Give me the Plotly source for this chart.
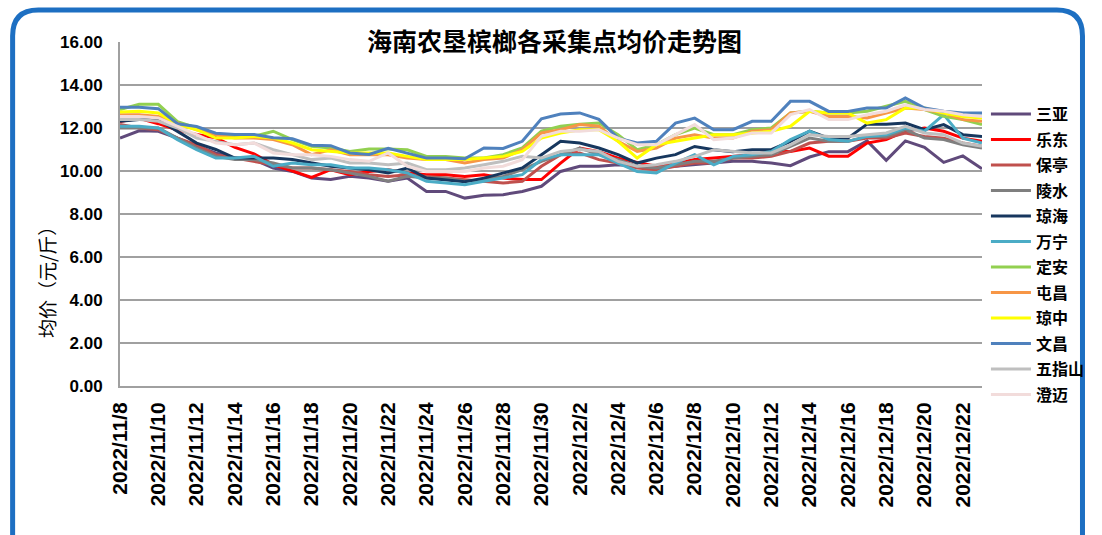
import plotly.graph_objects as go

dates = ["2022/11/8", "2022/11/9", "2022/11/10", "2022/11/11", "2022/11/12", "2022/11/13",
         "2022/11/14", "2022/11/15", "2022/11/16", "2022/11/17", "2022/11/18", "2022/11/19",
         "2022/11/20", "2022/11/21", "2022/11/22", "2022/11/23", "2022/11/24", "2022/11/25",
         "2022/11/26", "2022/11/27", "2022/11/28", "2022/11/29", "2022/11/30", "2022/12/1",
         "2022/12/2", "2022/12/3", "2022/12/4", "2022/12/5", "2022/12/6", "2022/12/7",
         "2022/12/8", "2022/12/9", "2022/12/10", "2022/12/11", "2022/12/12", "2022/12/13",
         "2022/12/14", "2022/12/15", "2022/12/16", "2022/12/17", "2022/12/18", "2022/12/19",
         "2022/12/20", "2022/12/21", "2022/12/22", "2022/12/23"]

sanya = [11.53, 11.87, 11.85, 11.53, 11.15, 10.84, 10.60, 10.53, 10.14, 9.98,
         9.67, 9.60, 9.75, 9.67, 9.52, 9.67, 9.05, 9.05, 8.74, 8.87,
         8.90, 9.05, 9.29, 9.98, 10.22, 10.22, 10.29, 10.22, 10.14, 10.22,
         10.29, 10.37, 10.45, 10.45, 10.37, 10.25, 10.65, 10.90, 10.90, 11.40,
         10.50, 11.40, 11.10, 10.40, 10.70, 10.10]
ledong = [12.30, 12.45, 12.20, 11.90, 11.70, 11.55, 11.10, 10.80, 10.30, 10.00,
          9.70, 10.06, 9.83, 9.98, 10.06, 9.91, 9.83, 9.83, 9.75, 9.83,
          9.67, 9.60, 9.60, 10.37, 11.07, 10.90, 10.60, 10.40, 10.22, 10.37,
          10.53, 10.60, 10.68, 10.76, 10.91, 10.91, 11.07, 10.69, 10.69, 11.30,
          11.46, 11.85, 12.00, 11.85, 11.53, 11.38]
baoting = [12.16, 12.00, 11.92, 11.53, 11.22, 10.76, 10.60, 10.45, 10.29, 10.14,
           10.14, 10.06, 9.98, 9.83, 9.75, 9.83, 9.75, 9.67, 9.60, 9.52,
           9.44, 9.52, 10.22, 10.76, 10.84, 10.53, 10.37, 10.14, 10.06, 10.22,
           10.37, 10.37, 10.60, 10.60, 10.68, 10.91, 11.30, 11.38, 11.38, 11.53,
           11.53, 11.77, 11.61, 11.53, 11.30, 11.15]
lingshui = [12.00, 12.00, 12.00, 11.53, 11.07, 10.68, 10.53, 10.53, 10.37, 10.14,
            10.14, 10.06, 9.91, 9.75, 9.52, 9.75, 9.67, 9.67, 9.52, 9.60,
            9.75, 10.06, 10.45, 10.76, 11.07, 10.76, 10.53, 10.22, 10.14, 10.29,
            10.45, 10.45, 10.60, 10.68, 10.76, 11.15, 11.53, 11.38, 11.38, 11.61,
            11.61, 11.92, 11.53, 11.46, 11.22, 11.07]
qionghai = [12.31, 12.39, 12.39, 11.85, 11.30, 11.00, 10.60, 10.60, 10.60, 10.53,
            10.37, 10.22, 10.14, 10.06, 9.91, 10.14, 9.67, 9.60, 9.50, 9.67,
            9.91, 10.14, 10.76, 11.38, 11.30, 11.07, 10.76, 10.37, 10.60, 10.76,
            11.14, 10.99, 10.90, 10.99, 10.99, 11.38, 11.85, 11.53, 11.53, 12.18,
            12.18, 12.23, 11.92, 12.16, 11.69, 11.61]
wanning = [12.08, 12.08, 12.00, 11.46, 10.99, 10.60, 10.60, 10.68, 10.22, 10.37,
           10.29, 10.29, 10.14, 10.14, 10.06, 9.91, 9.52, 9.44, 9.36, 9.52,
           9.67, 9.83, 10.53, 10.76, 10.76, 10.76, 10.37, 9.98, 9.91, 10.37,
           10.76, 10.29, 10.68, 10.76, 10.91, 11.46, 11.85, 11.46, 11.38, 11.61,
           11.69, 12.00, 11.85, 12.62, 11.53, 11.30]
dingan = [12.86, 13.10, 13.10, 12.30, 12.00, 11.69, 11.60, 11.61, 11.85, 11.46,
          11.15, 11.07, 10.91, 11.02, 11.02, 10.99, 10.68, 10.68, 10.60, 10.60,
          10.76, 11.07, 11.85, 12.08, 12.18, 12.23, 11.69, 10.99, 11.22, 11.69,
          12.00, 11.69, 11.69, 11.92, 12.00, 12.70, 12.78, 12.70, 12.70, 12.78,
          13.01, 13.24, 12.86, 12.54, 12.39, 12.16]
tunchang = [12.62, 12.62, 12.54, 12.23, 11.92, 11.69, 11.53, 11.53, 11.46, 11.22,
            10.76, 10.99, 10.76, 10.76, 10.76, 10.60, 10.53, 10.53, 10.37, 10.53,
            10.60, 10.99, 11.77, 11.92, 12.16, 12.08, 11.38, 10.91, 11.07, 11.53,
            11.69, 11.53, 11.53, 11.85, 11.92, 12.70, 12.78, 12.54, 12.54, 12.47,
            12.70, 12.93, 12.86, 12.70, 12.39, 12.31]
qiongzhong = [12.75, 12.78, 12.70, 12.16, 11.92, 11.53, 11.53, 11.61, 11.53, 11.30,
              10.99, 10.91, 10.84, 10.84, 10.84, 10.68, 10.53, 10.53, 10.53, 10.60,
              10.68, 10.91, 11.53, 11.77, 11.92, 11.92, 11.38, 10.60, 11.22, 11.38,
              11.53, 11.69, 11.69, 11.77, 11.85, 12.08, 12.78, 12.70, 12.70, 12.23,
              12.39, 12.93, 12.93, 12.70, 12.54, 12.47]
wenchang = [12.97, 12.97, 12.90, 12.20, 12.07, 11.76, 11.70, 11.70, 11.55, 11.50,
            11.20, 11.18, 10.84, 10.77, 11.05, 10.84, 10.60, 10.60, 10.57, 11.07,
            11.05, 11.38, 12.43, 12.65, 12.70, 12.40, 11.53, 11.30, 11.38, 12.23,
            12.46, 11.92, 11.92, 12.31, 12.31, 13.24, 13.24, 12.77, 12.77, 12.93,
            12.93, 13.40, 12.93, 12.78, 12.70, 12.70]
wuzhishan = [12.39, 12.39, 12.31, 12.00, 11.53, 11.38, 11.22, 11.30, 10.99, 10.76,
             10.53, 10.60, 10.37, 10.37, 10.29, 10.37, 10.06, 10.06, 10.14, 10.29,
             10.45, 10.68, 10.60, 10.91, 11.00, 10.91, 10.45, 10.22, 10.29, 10.45,
             10.68, 10.99, 10.91, 10.84, 10.84, 11.22, 11.69, 11.61, 11.61, 11.69,
             11.77, 12.08, 11.77, 11.69, 11.30, 11.15]
chengmai = [12.54, 12.54, 12.47, 12.08, 11.69, 11.30, 11.22, 11.30, 10.84, 10.76,
            10.76, 10.68, 10.53, 10.45, 10.84, 10.22, 9.98, 9.98, 9.98, 10.14,
            10.22, 10.53, 11.61, 11.85, 11.85, 11.92, 11.53, 11.22, 11.22, 11.69,
            12.16, 11.46, 11.53, 11.77, 11.77, 12.62, 12.86, 12.39, 12.39, 12.62,
            12.78, 13.08, 12.86, 12.78, 12.62, 12.54]

series_names = ["三亚", "乐东", "保亭", "陵水", "琼海", "万宁", "定安", "屯昌", "琼中", "文昌", "五指山", "澄迈"]
series_values = [sanya, ledong, baoting, lingshui, qionghai, wanning, dingan, tunchang,
                 qiongzhong, wenchang, wuzhishan, chengmai]
series_colors = ["#604a7b", "#ff0000", "#c0504d", "#7f7f7f", "#17375e", "#4bacc6",
                 "#92d050", "#f79646", "#ffff00", "#4f81bd", "#bfbfbf", "#f2dcdb"]

y_ticks = [0, 2, 4, 6, 8, 10, 12, 14, 16]
y_labels = ["0.00", "2.00", "4.00", "6.00", "8.00", "10.00", "12.00", "14.00", "16.00"]

# layout geometry (pixels)
W, H = 1102, 535
L, R, T, B = 120, 995, 42, 386


def pxx(x):
    return (x - L) / (R - L)


def pyy(y):
    return (B - y) / (B - T)


LAT = "Liberation Sans, Arial, sans-serif"
CJK = "Noto Sans CJK SC, sans-serif"

fig = go.Figure()
for name, vals, col in zip(series_names, series_values, series_colors):
    fig.add_trace(go.Scatter(x=dates, y=vals, name=name, mode="lines",
                             line=dict(color=col, width=3), legendgroup=name))

# blue rounded frame
fl, ft, fr, fb, rad = 11, 10, 1097, 560, 26
path = (f"M {pxx(fl)},{pyy(fb)} L {pxx(fl)},{pyy(ft + rad)} "
        f"Q {pxx(fl)},{pyy(ft)} {pxx(fl + rad)},{pyy(ft)} "
        f"L {pxx(fr - rad)},{pyy(ft)} Q {pxx(fr)},{pyy(ft)} {pxx(fr)},{pyy(ft + rad)} "
        f"L {pxx(fr)},{pyy(fb)}")
fig.add_shape(type="path", path=path, xref="paper", yref="paper",
              line=dict(color="#1d6fc2", width=5), fillcolor="rgba(0,0,0,0)", layer="above")

fig.add_annotation(text="<b>海南农垦槟榔各采集点均价走势图</b>", xref="paper", yref="paper",
                   x=pxx(561), y=pyy(40), showarrow=False, bgcolor="white",
                   font=dict(family=CJK, size=25, color="#000000"), xanchor="center", yanchor="middle")
fig.add_annotation(text="均价（元/斤）", xref="paper", yref="paper",
                   x=pxx(45), y=pyy(278), showarrow=False, textangle=-90,
                   font=dict(family=CJK, size=19, color="#000000"), xanchor="center", yanchor="middle")

fig.update_layout(
    width=W, height=H,
    margin=dict(l=L, r=W - R, t=T, b=H - B, pad=0),
    paper_bgcolor="white", plot_bgcolor="white",
    showlegend=True,
    legend=dict(x=pxx(999), xanchor="left", y=pyy(97), yanchor="top",
                font=dict(family=CJK, size=16, color="#000000", weight="bold"),
                itemwidth=40, tracegroupgap=1.7, bgcolor="rgba(0,0,0,0)"),
    xaxis=dict(type="category", range=[0, 45], tickmode="array",
               tickvals=dates[::2], ticktext=dates[::2], tickangle=-90,
               tickfont=dict(family=LAT, size=21, color="#000000", weight="bold"),
               showgrid=False, showline=True, linecolor="#a0a0a0", linewidth=2,
               ticks="", ticklabelstandoff=6),
    yaxis=dict(range=[0, 16], tickmode="array", tickvals=y_ticks, ticktext=y_labels,
               tickfont=dict(family=LAT, size=17, color="#000000", weight="bold"),
               showgrid=True, gridcolor="#a0a0a0", gridwidth=2,
               showline=True, linecolor="#a0a0a0", linewidth=2,
               zeroline=False, ticks="", ticklabelstandoff=12),
)

fig.write_html("out.html", config={"displayModeBar": False})

# remove the default page margin so the figure sits at the window origin
with open("out.html", "r", encoding="utf-8") as f:
    html = f.read()
html = html.replace("<head>", "<head><style>html,body{margin:0;padding:0;overflow:hidden;}</style>", 1)
with open("out.html", "w", encoding="utf-8") as f:
    f.write(html)
